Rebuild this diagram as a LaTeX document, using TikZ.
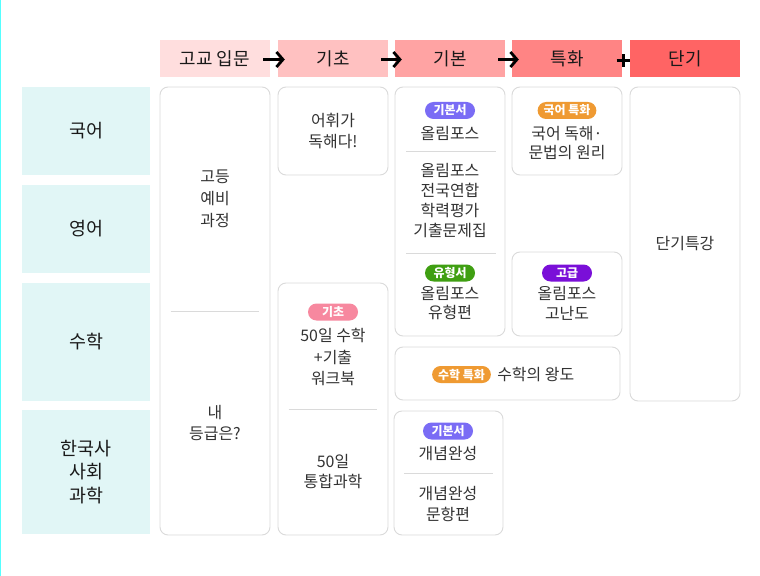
\documentclass[tikz,border=0pt]{standalone}
\usepackage{fontspec}
\setmainfont{Noto Sans CJK KR}
\usepackage{tikz}
\usetikzlibrary{positioning}
\usetikzlibrary{arrows.meta}

\definecolor{hdA}{HTML}{FFDEDE}
\definecolor{hdB}{HTML}{FFC1C1}
\definecolor{hdC}{HTML}{FFA3A3}
\definecolor{hdD}{HTML}{FF8484}
\definecolor{hdE}{HTML}{FF6464}
\definecolor{subj}{HTML}{E1F6F6}
\definecolor{cardline}{HTML}{DADADA}
\definecolor{txt}{HTML}{333333}
\definecolor{edgecyan}{HTML}{55FFFF}
\definecolor{tagblue}{HTML}{7A6CF5}
\definecolor{taggreen}{HTML}{3F9F12}
\definecolor{tagorange}{HTML}{EF9A32}
\definecolor{tagpurple}{HTML}{7A0FD8}
\definecolor{tagpink}{HTML}{F7889F}

\begin{document}
\begin{tikzpicture}[x=1bp, y=-1bp,
    head/.style={minimum width=110bp, minimum height=37bp, inner sep=0pt, text=black!90, font=\fontsize{18}{18}\selectfont},
    subject/.style={fill=subj, minimum width=128bp, inner sep=0pt, align=center, text=black!90, font=\fontsize{18.5}{23.5}\selectfont},
    card/.style={draw=cardline, line width=0.9bp, rounded corners=8bp, fill=white, minimum width=110bp, inner sep=0pt, align=center, text=txt, font=\fontsize{16}{21}\selectfont},
    words/.style={align=center, inner sep=0pt, text=txt, font=\fontsize{16}{20}\selectfont},
    tag/.style={text=white, minimum width=50bp, minimum height=17bp, inner xsep=6bp, inner ysep=0pt, rounded corners=8.5bp, font=\bfseries\fontsize{12}{12}\selectfont},
    divider/.style={draw=cardline, line width=0.9bp},
    hdarrow/.style={line width=2.8bp, -{Straight Barb[length=6.5bp, width=15bp]}},
    plusmark/.style={line width=3bp}]
        \useasboundingbox (0,0) rectangle (760,576);
        \fill[edgecyan] (0,0) rectangle (1.4,576);

        % stages
        \node[head, fill=hdA]   (ipmun)     at (215,58.5) {고교 입문};
        \node[head, fill=hdB]   (gicho)     at (333,58.5) {기초};
        \node[head, fill=hdC]   (gibon)     at (450,58.5) {기본};
        \node[head, fill=hdD]   (tukhwa)    at (567,58.5) {특화};
        \node[head, fill=hdE]   (dangi)     at (685,58.5) {단기};

        \draw[hdarrow] ([xshift=-7bp, yshift=-1bp]ipmun.east) -- ([xshift=7bp, yshift=-1bp]gicho.west);
        \draw[hdarrow] ([xshift=-7bp, yshift=-1bp]gicho.east) -- ([xshift=7bp, yshift=-1bp]gibon.west);
        \draw[hdarrow] ([xshift=-7bp, yshift=-1bp]gibon.east) -- ([xshift=7bp, yshift=-1bp]tukhwa.west);
        \coordinate (plus) at (623,60.5);
        \draw[plusmark] ([xshift=-6.5bp]plus) -- ([xshift=6.5bp]plus) ([yshift=-6.5bp]plus) -- ([yshift=6.5bp]plus);

        % subjects
        \node[subject, minimum height=88bp]     (kor)   at (86,131) {국어};
        \node[subject, minimum height=88bp]     (eng)   at (86,229) {영어};
        \node[subject, minimum height=118bp]    (math)  at (86,341.5) {수학};
        \node[subject, minimum height=124bp]    (soc)   at (86,472) {한국사\\사회\\과학};

        % high school preparation
        \node[card, minimum height=448bp]   (prep)      at (215,311) {};
        \node[words, font=\fontsize{16}{22}\selectfont] (prepA) at (215,198.5) {고등\\예비\\과정};
        \draw[divider] ([xshift=11bp]prep.west) -- ([xshift=-11bp]prep.east);
        \node[words, font=\fontsize{16}{22}\selectfont] (prepB) at (215,423) {내\\등급은?};

        % basics
        \node[card, minimum height=88bp]    (vocab)     at (333,131) {어휘가\\독해다!};
        \node[card, minimum height=252bp]   (basic)     at (333,409) {};
        \node[tag, fill=tagpink]            (basictag)  at (333,312) {기초};
        \node[words, font=\fontsize{16}{22}\selectfont] (basicA) at (333,357) {50일 수학\\+기출\\워크북};
        \draw[divider] ([xshift=11bp]basic.west) -- ([xshift=-11bp]basic.east);
        \node[words, font=\fontsize{16}{21}\selectfont] (basicB) at (333,471.5) {50일\\통합과학};

        % core
        \node[card, minimum height=249bp]   (olym)      at (450,211.5) {};
        \node[tag, fill=tagblue]            (olymtag)   at (450,110.5) {기본서};
        \node[words]                        (olymA)     at (450,133) {올림포스};
        \draw[divider] (406,151) -- (496,151);
        \node[words]                        (olymB)     at (450,200.5) {올림포스\\전국연합\\학력평가\\기출문제집};
        \draw[divider] (406,253) -- (496,253);
        \node[tag, fill=taggreen]           (typetag)   at (450,273) {유형서};
        \node[words]                        (typeA)     at (450,303) {올림포스\\유형편};

        \node[card, minimum width=109bp, minimum height=124bp] (concept) at (448.5,473) {};
        \node[tag, fill=tagblue]            (concepttag) at (448,431) {기본서};
        \node[words]                        (conceptA)  at (448,453.5) {개념완성};
        \draw[divider] (404,473.5) -- (493,473.5);
        \node[words, font=\fontsize{16}{22}\selectfont] (conceptB) at (448,504) {개념완성\\문항편};

        % special
        \node[card, minimum height=88bp]    (korsp)     at (567,131) {};
        \node[tag, fill=tagorange]          (korsptag)  at (567,110.5) {국어 특화};
        \node[words, font=\fontsize{16}{18.5}\selectfont] (korspA) at (567,143) {국어 독해·\\문법의 원리};

        \node[card, minimum height=84bp]    (hard)      at (567,294) {};
        \node[tag, fill=tagpurple]          (hardtag)   at (567,273) {고급};
        \node[words]                        (hardA)     at (567,303) {올림포스\\고난도};

        \node[card, minimum width=225bp, minimum height=53bp] (mathsp) at (507.5,373.5) {};
        \node[tag, fill=tagorange]          (mathsptag) at (461.5,374.5) {수학 특화};
        \node[words]                        (mathspA)   [right=6bp of mathsptag] {수학의 왕도};

        % short term
        \node[card, minimum height=314bp]   (short)     at (685,244) {단기특강};
    \end{tikzpicture}
\end{document}
